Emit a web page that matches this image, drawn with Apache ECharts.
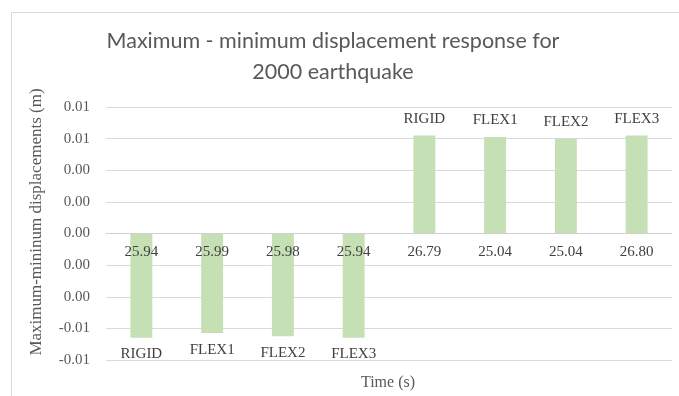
<!DOCTYPE html>
<html>
<head>
<meta charset="utf-8">
<script src="https://cdn.jsdelivr.net/npm/echarts@6/dist/echarts.min.js"></script>
<style>
  html, body { margin: 0; padding: 0; background: #ffffff; }
  #chart { width: 679px; height: 396px; }
</style>
</head>
<body>
<div id="chart"></div>
<script>
// Time of peak response for each model (category axis labels)
const categories = ['25.94', '25.99', '25.98', '25.94', '26.79', '25.04', '25.04', '26.80'];
// Structural model shown above/below each bar
const modelNames = ['RIGID', 'FLEX1', 'FLEX2', 'FLEX3', 'RIGID', 'FLEX1', 'FLEX2', 'FLEX3'];
// Minimum (first four) and maximum (last four) displacements, m
const displacements = [-0.0066, -0.0063, -0.0065, -0.0066, 0.0062, 0.0061, 0.0060, 0.0062];
// Value axis range
const yMin = -0.008, yMax = 0.008, yStep = 0.002;

const serif = '"Liberation Serif", "Times New Roman", serif';
const chart = echarts.init(document.getElementById('chart'));

const gridTop = 107, gridBottom = 36;
const plotHeight = 396 - gridTop - gridBottom;
// shift the category axis from the bottom edge up to the zero line
const zeroOffset = -plotHeight * (0 - yMin) / (yMax - yMin);

const barData = displacements.map((v, i) => ({
  value: v,
  label: {
    show: true,
    position: v < 0 ? 'bottom' : 'top',
    formatter: modelNames[i]
  }
}));

chart.setOption({
  animation: false,
  title: {
    text: 'Maximum - minimum displacement response for\n2000 earthquake',
    left: 328,
    top: 21,
    textAlign: 'center',
    textStyle: {
      fontFamily: 'Lato, "Open Sans", sans-serif',
      fontWeight: 'normal',
      fontSize: 21.5,
      lineHeight: 31,
      color: '#595959'
    }
  },
  graphic: [
    {
      type: 'rect',
      shape: { x: 11.5, y: 12.5, width: 700, height: 420 },
      style: { fill: 'none', stroke: '#d9d9d9', lineWidth: 1 },
      silent: true
    },
    {
      type: 'text',
      x: 388,
      y: 383,
      style: {
        text: 'Time (s)',
        font: '16px ' + serif,
        fill: '#595959',
        textAlign: 'center',
        textVerticalAlign: 'middle'
      }
    },
    {
      type: 'text',
      x: 37,
      y: 222,
      rotation: Math.PI / 2,
      style: {
        text: 'Maximum-mininum displacements (m)',
        font: '17px ' + serif,
        fill: '#595959',
        textAlign: 'center',
        textVerticalAlign: 'middle'
      }
    }
  ],
  grid: { left: 106, right: 7, top: gridTop, bottom: gridBottom, containLabel: false },
  xAxis: {
    type: 'category',
    data: categories,
    offset: zeroOffset,
    z: 5,
    axisLine: { onZero: false, lineStyle: { color: '#d0d0d0', width: 1 } },
    axisTick: { show: false },
    axisLabel: {
      margin: 11,
      fontFamily: serif,
      fontSize: 15,
      color: '#404040'
    }
  },
  yAxis: {
    type: 'value',
    min: yMin,
    max: yMax,
    interval: yStep,
    axisLine: { show: false },
    axisTick: { show: false },
    splitLine: { lineStyle: { color: '#d9d9d9', width: 1 } },
    axisLabel: {
      margin: 16,
      fontFamily: serif,
      fontSize: 15,
      color: '#595959',
      formatter: v => {
        const s = v.toFixed(2);
        return s === '-0.00' ? '0.00' : s;
      }
    }
  },
  series: [{
    type: 'bar',
    data: barData,
    barWidth: '31%',
    itemStyle: { color: '#c5e0b4' },
    label: {
      distance: 9,
      fontFamily: serif,
      fontSize: 15,
      color: '#404040'
    }
  }]
});
</script>
</body>
</html>
